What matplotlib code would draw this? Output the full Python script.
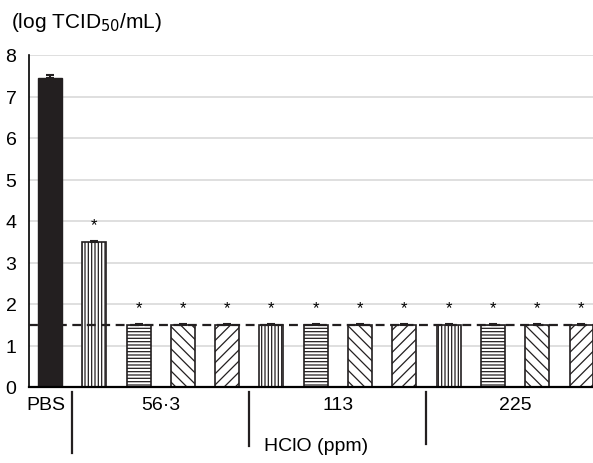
import numpy as np
import matplotlib.pyplot as plt

plt.rcParams['font.family'] = ['Liberation Sans', 'DejaVu Sans']
plt.rcParams['hatch.linewidth'] = 0.9

# Data (log TCID50/mL)
values = [7.45, 3.5, 1.5, 1.5, 1.5, 1.5, 1.5, 1.5, 1.5, 1.5, 1.5, 1.5, 1.5]
errors = [0.08, 0.03, 0.02, 0.02, 0.02, 0.02, 0.02, 0.02, 0.02, 0.02, 0.02, 0.02, 0.02]
signif = [False] + [True] * 12
hatches = [None] + ['|||||', '-----', '\\\\\\', '///'] * 3
groups = ['PBS', '56·3', '113', '225']
detection_limit = 1.5

fig = plt.figure(figsize=(5.93, 4.64), dpi=100)
ax = fig.add_axes([29 / 593, 76 / 464, 1 - 29 / 593, 332 / 464])

x = np.arange(len(values))
for i, (v, e, h) in enumerate(zip(values, errors, hatches)):
    if h is None:
        ax.bar(x[i], v, width=0.54, color='#231f20', edgecolor='#231f20', zorder=3)
    else:
        ax.bar(x[i], v, width=0.54, color='white', edgecolor='#231f20',
               hatch=h, linewidth=1.2, zorder=3)
    ax.errorbar(x[i], v, yerr=[[0], [e]], color='#231f20', capsize=3,
                elinewidth=1.5, capthick=1.5, zorder=4)
    if signif[i]:
        ax.text(x[i], v + 0.22, '*', ha='center', va='bottom', fontsize=12)

ax.axhline(detection_limit, color='#231f20', linestyle=(0, (4, 2.5)), linewidth=1.6, zorder=5)

ax.set_xlim(-0.474, 12.26)
ax.set_ylim(0, 8)
ax.set_yticks(range(0, 9))
ax.yaxis.grid(True, color='#d9d9d9', linewidth=1.2, zorder=0)
ax.set_axisbelow(True)
ax.set_xticks([])
ax.tick_params(axis='y', length=0, labelsize=14, pad=9)
for s in ['top', 'right']:
    ax.spines[s].set_visible(False)
ax.spines['left'].set_linewidth(1.2)
ax.spines['bottom'].set_linewidth(1.6)
ax.spines['bottom'].set_zorder(6)

# group labels and separators below the axis
trans = ax.get_xaxis_transform()
label_x = [-0.1, 2.5, 6.5, 10.5]
for gx, g in zip(label_x, groups):
    ax.text(gx, -0.052, g, transform=trans, ha='center', va='center', fontsize=14)
sep_x = [0.5, 4.5, 8.5]
sep_bottom = [-0.2, -0.178, -0.172]
for sx, sb in zip(sep_x, sep_bottom):
    ax.plot([sx, sx], [-0.015, sb], transform=trans, color='#231f20',
            linewidth=1.6, clip_on=False)
ax.text(6.0, -0.175, 'HClO (ppm)', transform=trans, ha='center', va='center', fontsize=14)

fig.text(11 / 593, 1 - 22 / 464, '(log TCID$_{50}$/mL)', ha='left', va='center', fontsize=15)

fig.savefig('out.png', dpi=100)
